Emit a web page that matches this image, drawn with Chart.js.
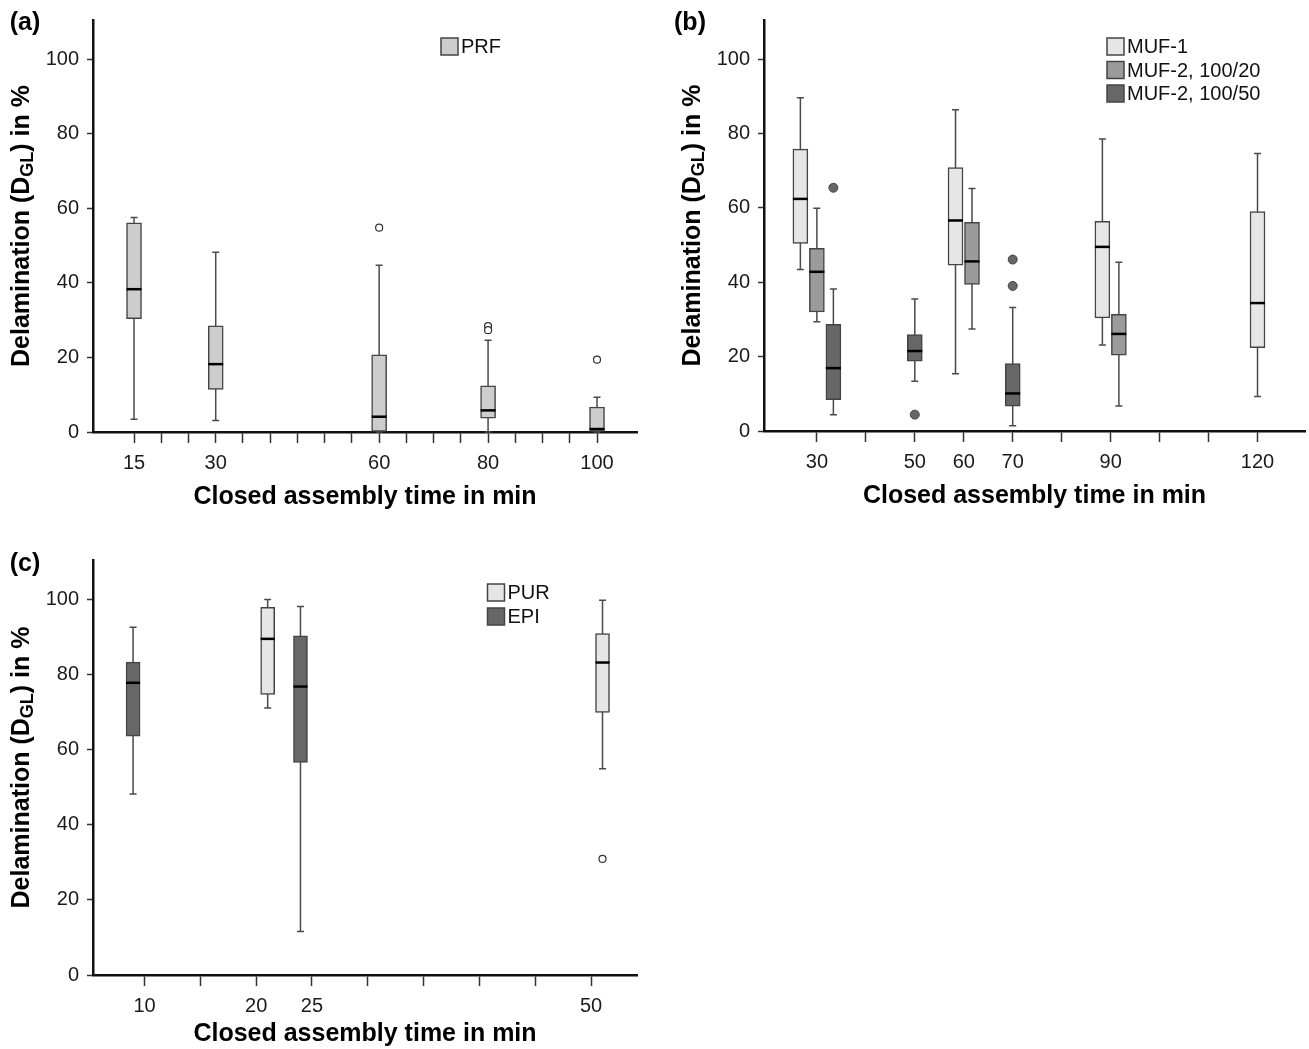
<!DOCTYPE html>
<html>
<head>
<meta charset="utf-8">
<script src="https://cdn.jsdelivr.net/npm/chart.js@4.4.1/dist/chart.umd.min.js"></script>
<style>
  body { margin: 0; background: #fff; }
  .panel { position: absolute; }
  canvas { display: block; }
</style>
</head>
<body>
<div class="panel" style="left:0;top:0"><canvas id="chartA" width="650" height="520"></canvas></div>
<div class="panel" style="left:650px;top:0"><canvas id="chartB" width="659" height="520"></canvas></div>
<div class="panel" style="left:0;top:540px"><canvas id="chartC" width="650" height="509"></canvas></div>
<script>
Chart.defaults.font.family = '"Liberation Sans", Arial, Helvetica, sans-serif';
Chart.defaults.color = '#1a1a1a';

const yTicks = [0, 20, 40, 60, 80, 100];

// (a) PRF
const timesA = [15, 30, 60, 80, 100];
const ticksA = [15, 20, 25, 30, 35, 40, 45, 50, 55, 60, 65, 70, 75, 80, 85, 90, 95, 100];
const prfLow = [3.4, 3.1, 0, 0, 0];
const prfQ1 = [30.4, 11.4, 0, 3.7, 0];
const prfMed = [38.3, 18.2, 4.1, 5.8, 0.8];
const prfQ3 = [56.1, 28.5, 20.7, 12.4, 6.7];
const prfHigh = [57.5, 48.2, 44.7, 24.6, 9.3];
const prfOut = [[], [], [54.8], [28.4, 27.3], [19.4]];

// (b) MUF
const timesB = [30, 50, 60, 70, 90, 120];
const ticksB = [30, 40, 50, 60, 70, 80, 90, 100, 110, 120];
const muf1Low = [43.4, null, 15.4, null, 23.1, 9.3];
const muf1Q1 = [50.4, null, 44.6, null, 30.4, 22.4];
const muf1Med = [62.4, null, 56.6, null, 49.5, 34.4];
const muf1Q3 = [75.8, null, 70.8, null, 56.4, 59.0];
const muf1High = [89.6, null, 86.4, null, 78.5, 74.6];
const muf20Low = [29.4, null, 27.4, null, 6.7, null];
const muf20Q1 = [32.0, null, 39.4, null, 20.4, null];
const muf20Med = [42.8, null, 45.6, null, 26.1, null];
const muf20Q3 = [49.1, null, 56.1, null, 31.4, null];
const muf20High = [59.9, null, 65.2, null, 45.4, null];
const muf50Low = [4.4, 13.4, null, 1.4, null, null];
const muf50Q1 = [8.4, 18.8, null, 6.7, null, null];
const muf50Med = [16.9, 21.5, null, 10.1, null, null];
const muf50Q3 = [28.7, 25.9, null, 18.1, null, null];
const muf50High = [38.2, 35.5, null, 33.2, null, null];
const muf50Out = [[65.4], [4.4], [], [46.1, 39.0], [], []];

// (c) PUR / EPI
const timesC = [10, 20, 25, 50];
const ticksC = [10, 15, 20, 25, 30, 35, 40, 45, 50];
const purLow = [null, 71.1, null, 54.9];
const purQ1 = [null, 74.7, null, 69.9];
const purMed = [null, 89.5, null, 83.2];
const purQ3 = [null, 97.9, null, 90.9];
const purHigh = [null, 100, null, 99.8];
const purOut = [[], [], [], [30.9]];
const epiLow = [48.2, null, 11.6, null];
const epiQ1 = [63.6, null, 56.6, null];
const epiMed = [77.8, null, 76.8, null];
const epiQ3 = [83.3, null, 90.3, null];
const epiHigh = [92.6, null, 98.1, null];

function boxSet(label, color, times, low, q1, med, q3, high, out, extra) {
  return Object.assign({
    label: label,
    backgroundColor: color,
    borderColor: '#444',
    borderWidth: 1.5,
    borderSkipped: false,
    data: times.map((t, i) => ({ x: t, y: q1[i] == null ? null : [q1[i], q3[i]] })),
    low: low, med: med, high: high, out: out || []
  }, extra);
}

// whiskers behind the boxes, medians + outliers on top
const boxPlugin = {
  id: 'boxes',
  beforeDatasetsDraw(chart) {
    const ctx = chart.ctx, ys = chart.scales.y;
    ctx.save();
    ctx.strokeStyle = '#4a4a4a';
    ctx.lineWidth = 1.5;
    chart.data.datasets.forEach((ds, di) => {
      chart.getDatasetMeta(di).data.forEach((el, j) => {
        if (ds.med[j] == null) return;
        const lo = ys.getPixelForValue(ds.low[j]);
        const hi = ys.getPixelForValue(ds.high[j]);
        ctx.beginPath();
        ctx.moveTo(el.x, lo); ctx.lineTo(el.x, hi);
        ctx.moveTo(el.x - 3.5, lo); ctx.lineTo(el.x + 3.5, lo);
        ctx.moveTo(el.x - 3.5, hi); ctx.lineTo(el.x + 3.5, hi);
        ctx.stroke();
      });
    });
    ctx.restore();
  },
  afterDatasetsDraw(chart, args, opts) {
    const ctx = chart.ctx, ys = chart.scales.y;
    ctx.save();
    chart.data.datasets.forEach((ds, di) => {
      chart.getDatasetMeta(di).data.forEach((el, j) => {
        if (ds.med[j] == null) return;
        const m = ys.getPixelForValue(ds.med[j]);
        ctx.strokeStyle = '#000';
        ctx.lineWidth = 2.5;
        ctx.beginPath();
        ctx.moveTo(el.x - el.width / 2, m);
        ctx.lineTo(el.x + el.width / 2, m);
        ctx.stroke();
        (ds.out[j] || []).forEach(v => {
          ctx.beginPath();
          if (opts.hollow) {
            ctx.arc(el.x, ys.getPixelForValue(v), 3.5, 0, Math.PI * 2);
            ctx.fillStyle = '#fff';
            ctx.strokeStyle = '#333';
            ctx.lineWidth = 1.2;
          } else {
            ctx.arc(el.x, ys.getPixelForValue(v), 4.5, 0, Math.PI * 2);
            ctx.fillStyle = ds.backgroundColor;
            ctx.strokeStyle = '#444';
            ctx.lineWidth = 1;
          }
          ctx.fill();
          ctx.stroke();
        });
      });
    });
    ctx.restore();
  }
};

// panel letter, legend inside the plot, y title with subscript
const decor = {
  id: 'decor',
  afterDraw(chart, args, o) {
    const ctx = chart.ctx, ca = chart.chartArea;
    const fam = '"Liberation Sans", Arial, Helvetica, sans-serif';
    ctx.save();
    ctx.fillStyle = '#000';
    ctx.textBaseline = 'middle';
    ctx.textAlign = 'center';
    ctx.font = 'bold 25px ' + fam;
    ctx.fillText(o.letter, o.letterX, o.letterY);

    ctx.textAlign = 'left';
    ctx.font = '20px ' + fam;
    o.order.forEach((di, k) => {
      const ds = chart.data.datasets[di];
      const y = o.legendY + k * o.legendStep;
      ctx.fillStyle = ds.backgroundColor;
      ctx.fillRect(o.legendX, y, 17, 17);
      ctx.strokeStyle = '#444';
      ctx.lineWidth = 1.5;
      ctx.strokeRect(o.legendX, y, 17, 17);
      ctx.fillStyle = '#111';
      ctx.fillText(ds.label, o.legendX + 20, y + 9.5);
    });

    const parts = [['Delamination (D', 'bold 25px ' + fam, 0], ['GL', 'bold 18px ' + fam, 6], [') in %', 'bold 25px ' + fam, 0]];
    let total = 0;
    parts.forEach(p => { ctx.font = p[1]; p.push(ctx.measureText(p[0]).width); total += p[3]; });
    ctx.translate(ca.left - 71, (ca.top + ca.bottom) / 2);
    ctx.rotate(-Math.PI / 2);
    ctx.fillStyle = '#000';
    let x = -total / 2;
    parts.forEach(p => { ctx.font = p[1]; ctx.fillText(p[0], x, p[2]); x += p[3]; });
    ctx.restore();
  }
};

function makePanel(id, cfg) {
  return new Chart(document.getElementById(id), {
    type: 'bar',
    data: { datasets: cfg.datasets },
    options: {
      responsive: false,
      animation: false,
      layout: { padding: cfg.pad },
      plugins: {
        legend: { display: false },
        tooltip: { enabled: false },
        boxes: { hollow: cfg.hollow },
        decor: cfg.decor
      },
      scales: {
        x: {
          type: 'linear',
          min: cfg.xMin,
          max: cfg.xMax,
          offset: false,
          afterBuildTicks: s => { s.ticks = cfg.xTicks.map(v => ({ value: v })); },
          afterFit: s => { s.height = cfg.xHeight; },
          ticks: {
            autoSkip: false, maxRotation: 0, padding: 8,
            font: { size: 20 }, color: '#1a1a1a',
            callback: v => cfg.times.includes(v) ? String(v) : ''
          },
          grid: { offset: false, drawOnChartArea: false, tickLength: 11, tickWidth: 1.5, tickColor: '#333' },
          border: { color: '#111', width: 2.5 },
          title: {
            display: true, text: 'Closed assembly time in min', color: '#000',
            font: { size: 25, weight: 'bold' }, padding: { top: 0, bottom: cfg.titlePad }
          }
        },
        y: {
          min: 0,
          max: 110.5,
          afterBuildTicks: s => { s.ticks = yTicks.map(v => ({ value: v })); },
          afterFit: s => { s.width = cfg.yWidth; },
          ticks: { padding: 8, font: { size: 20 }, color: '#1a1a1a' },
          grid: { drawOnChartArea: false, tickLength: 6, tickWidth: 1.5, tickColor: '#333' },
          border: { color: '#111', width: 2.5 }
        }
      }
    },
    plugins: [boxPlugin, decor]
  });
}

makePanel('chartA', {
  datasets: [
    boxSet('PRF', '#cdcdcd', timesA, prfLow, prfQ1, prfMed, prfQ3, prfHigh, prfOut, { barThickness: 15 })
  ],
  times: timesA, xTicks: ticksA, xMin: 7.47, xMax: 107.34,
  pad: { left: 0, top: 12, right: 13, bottom: 0 }, yWidth: 93, xHeight: 88, titlePad: 8,
  hollow: true,
  decor: { letter: '(a)', letterX: 25, letterY: 23, order: [0], legendX: 441, legendY: 38, legendStep: 23.5 }
});

makePanel('chartB', {
  datasets: [
    boxSet('MUF-1', '#e6e6e6', timesB, muf1Low, muf1Q1, muf1Med, muf1Q3, muf1High, [], { barThickness: 16.5, maxBarThickness: 15, skipNull: true }),
    boxSet('MUF-2, 100/20', '#9b9b9b', timesB, muf20Low, muf20Q1, muf20Med, muf20Q3, muf20High, [], { barThickness: 16.5, maxBarThickness: 15, skipNull: true }),
    boxSet('MUF-2, 100/50', '#676767', timesB, muf50Low, muf50Q1, muf50Med, muf50Q3, muf50High, muf50Out, { barThickness: 16.5, maxBarThickness: 15, skipNull: true })
  ],
  times: timesB, xTicks: ticksB, xMin: 19.2, xMax: 129.7,
  pad: { left: 0, top: 11, right: 4, bottom: 0 }, yWidth: 114, xHeight: 89, titlePad: 8.5,
  hollow: false,
  decor: { letter: '(b)', letterX: 40, letterY: 23, order: [0, 1, 2], legendX: 457, legendY: 38, legendStep: 23.5 }
});

makePanel('chartC', {
  datasets: [
    boxSet('EPI', '#676767', timesC, epiLow, epiQ1, epiMed, epiQ3, epiHigh, [], { barThickness: 23, maxBarThickness: 14 }),
    boxSet('PUR', '#e6e6e6', timesC, purLow, purQ1, purMed, purQ3, purHigh, purOut, { barThickness: 23, maxBarThickness: 14 })
  ],
  times: timesC, xTicks: ticksC, xMin: 5.38, xMax: 54.12,
  pad: { left: 0, top: 15, right: 13, bottom: 0 }, yWidth: 93, xHeight: 74, titlePad: 0,
  hollow: true,
  decor: { letter: '(c)', letterX: 25, letterY: 24, order: [1, 0], legendX: 487.5, legendY: 44, legendStep: 24 }
});
</script>
</body>
</html>
